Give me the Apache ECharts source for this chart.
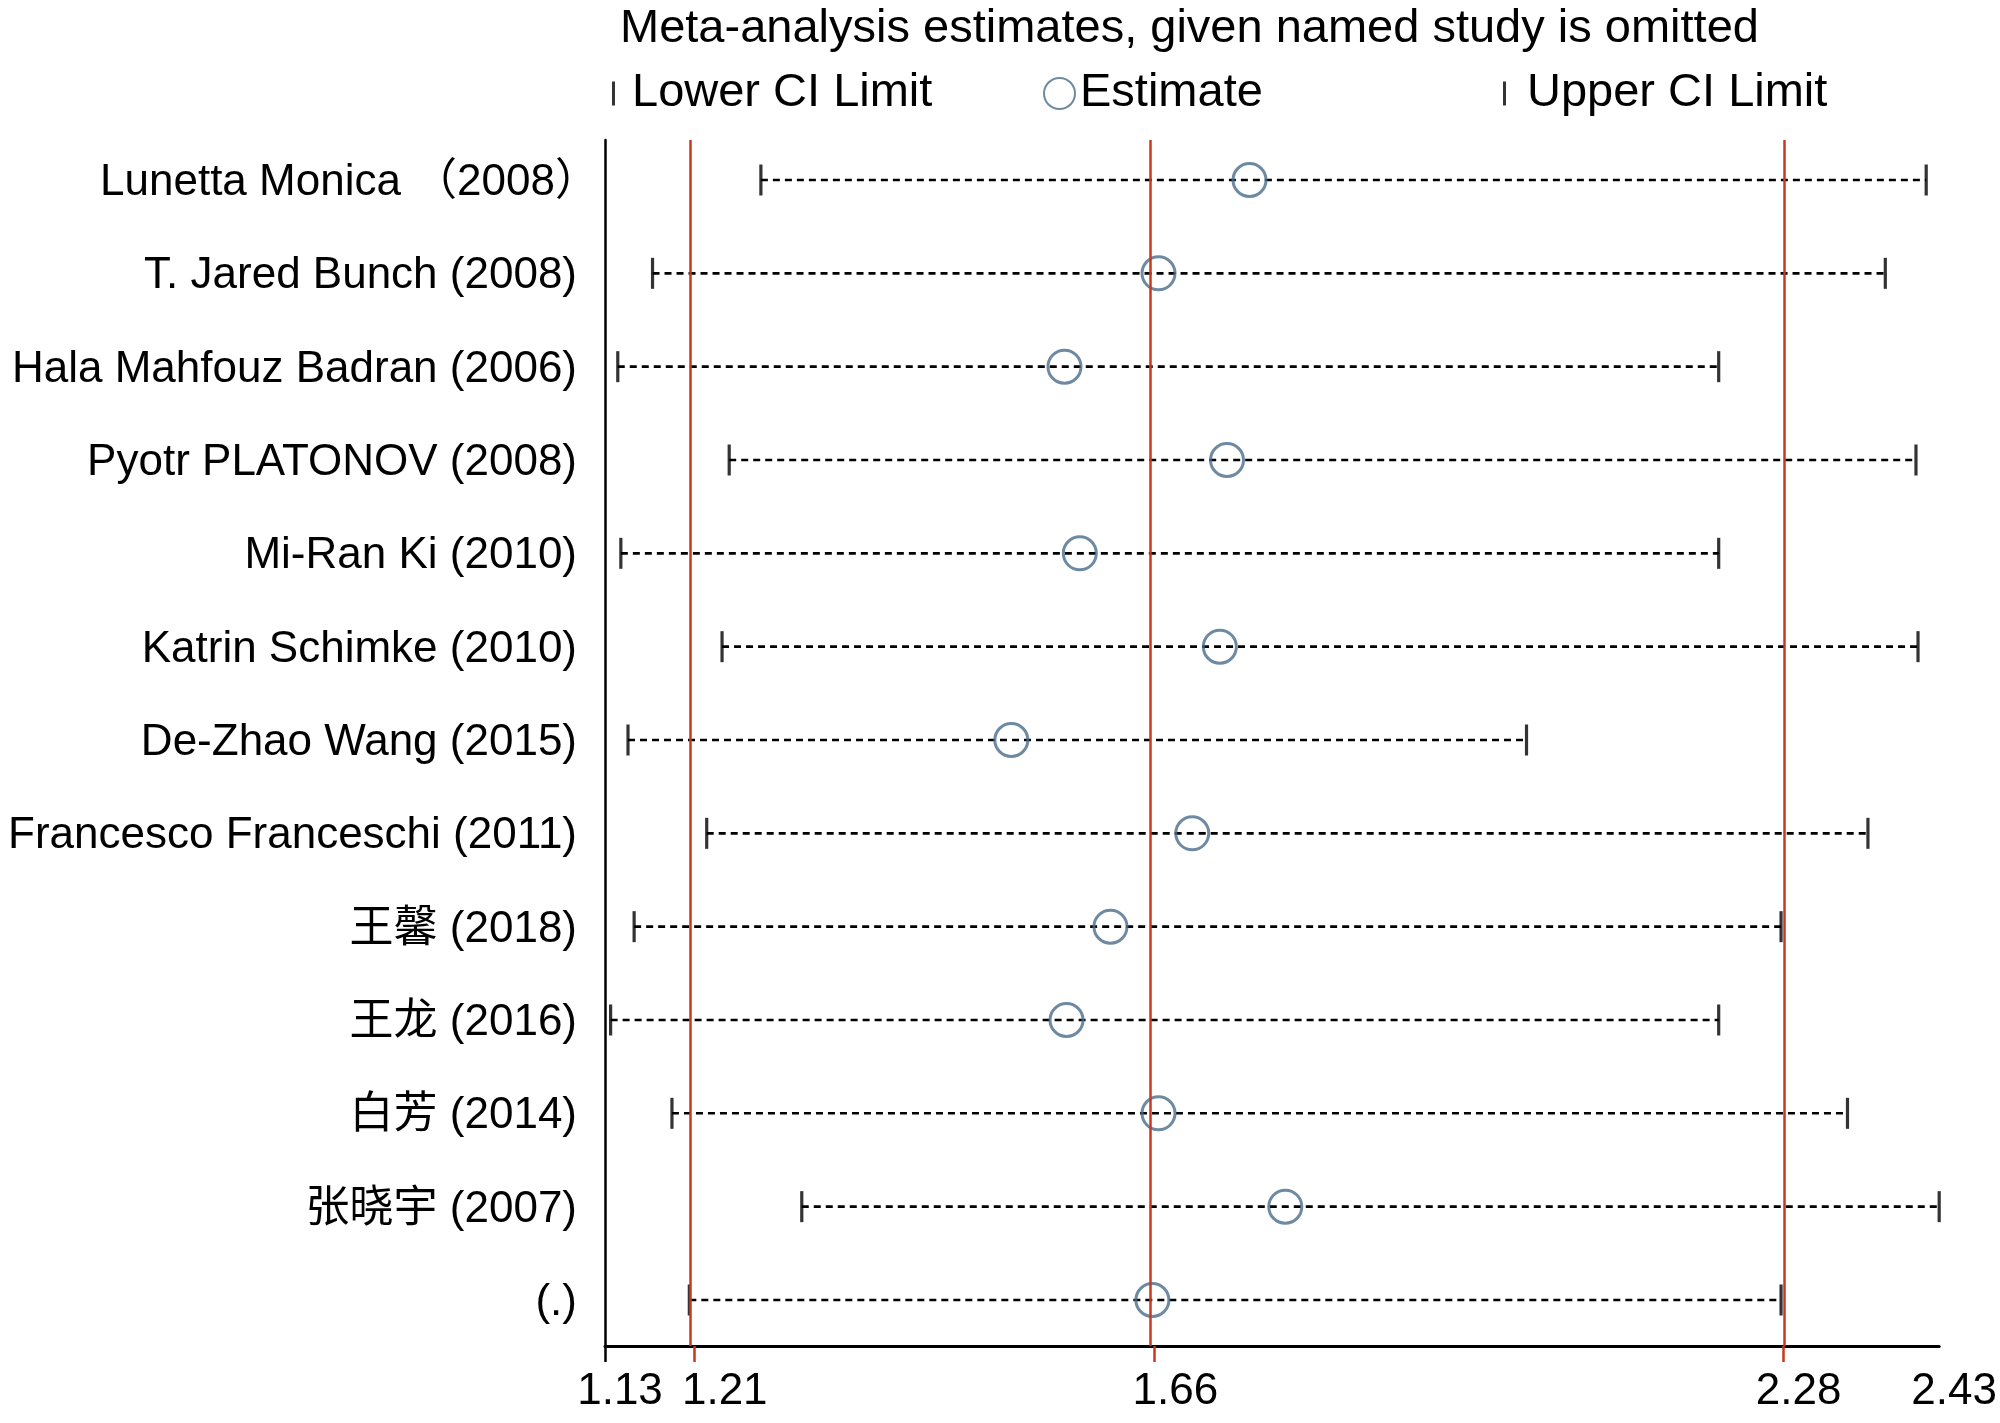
<!DOCTYPE html>
<html>
<head>
<meta charset="utf-8">
<script src="https://cdn.jsdelivr.net/npm/echarts@6/dist/echarts.min.js"></script>
<style>html,body{margin:0;padding:0;background:#fff;}#chart{width:2000px;height:1423px;}</style>
</head>
<body>
<div id="chart"></div>
<script>
const studies = [
  'Lunetta Monica （2008）',
  'T. Jared Bunch (2008)',
  'Hala Mahfouz Badran (2006)',
  'Pyotr PLATONOV (2008)',
  'Mi-Ran Ki (2010)',
  'Katrin Schimke (2010)',
  'De-Zhao Wang (2015)',
  'Francesco Franceschi (2011)',
  '王馨 (2018)',
  '王龙 (2016)',
  '白芳 (2014)',
  '张晓宇 (2007)',
  '(.)'
];
const lowerCI  = [1.279, 1.173, 1.139, 1.248, 1.142, 1.241, 1.149, 1.226, 1.155, 1.132, 1.192, 1.319, 1.209];
const estimate = [1.757, 1.668, 1.576, 1.735, 1.591, 1.728, 1.524, 1.701, 1.621, 1.578, 1.668, 1.792, 1.662];
const upperCI  = [2.419, 2.379, 2.216, 2.409, 2.216, 2.411, 2.028, 2.362, 2.277, 2.216, 2.342, 2.4317, 2.277];
const refValues = [1.2143, 1.664, 2.2795];
const tickValues = [1.1265, 1.2143, 1.664, 2.2795, 2.4317];
const tickLabels = ['1.13', '1.21', '1.66', '2.28', '2.43'];
const xMin = 1.1265, xMax = 2.4317;
const rowIndex = studies.map((s, i) => i);

const FONT = "'Liberation Sans', Arial, 'Noto Sans CJK SC', sans-serif";
const RED = '#c8391f';
const BLUE = '#4a6d8c';

const chart = echarts.init(document.getElementById('chart'), null, {renderer: 'canvas'});
const legendText = {fontSize: 47, color: '#000', fontFamily: FONT, padding: [0, 0, 0, 12]};
const labelShift = [0, 30, 12, 0, 0];
const rich = {};
tickLabels.forEach((t, k) => {
  rich['t' + k] = {fontSize: 44, color: '#000', fontFamily: FONT, padding: [0, 0, 0, labelShift[k]]};
});
const yRich = {
  n: {fontSize: 44, color: '#000', fontFamily: FONT},
  w: {fontSize: 44, color: '#000', fontFamily: FONT, padding: [0, -22, 0, 0]}
};
chart.setOption({
  animation: false,
  backgroundColor: '#fff',
  title: {
    text: 'Meta-analysis estimates, given named study is omitted',
    left: 620, top: 6, padding: 0,
    textStyle: {fontSize: 47, fontWeight: 'normal', color: '#000', fontFamily: FONT}
  },
  legend: [
    {data: ['Lower CI Limit'], left: 612, top: 70, padding: 0, itemWidth: 3, itemHeight: 24, icon: 'rect', textStyle: legendText},
    {data: ['Estimate'], left: 1043, top: 70, padding: 0, itemWidth: 31, itemHeight: 31, icon: 'circle', textStyle: Object.assign({}, legendText, {padding: 0})},
    {data: ['Upper CI Limit'], left: 1503, top: 70, padding: 0, itemWidth: 3, itemHeight: 24, icon: 'rect', textStyle: Object.assign({}, legendText, {padding: [0,0,0,16]})}
  ],
  grid: {left: 605, right: 57, top: 140, bottom: 77, containLabel: false},
  xAxis: [
    {
      type: 'value', min: xMin, max: xMax, position: 'bottom',
      axisLine: {show: true, onZero: false, lineStyle: {color: '#000', width: 3}},
      axisTick: {show: true, customValues: [xMin], length: 16, lineStyle: {color: '#000', width: 2.5}},
      axisLabel: {
        show: true, customValues: tickValues, fontSize: 44, color: '#000', fontFamily: FONT,
        margin: 24, padding: [0, 0, 0, 30], showMinLabel: true, showMaxLabel: true, hideOverlap: false,
        formatter: v => { const k = tickValues.findIndex(t => Math.abs(t - v) < 1e-9); return k >= 0 ? '{t' + k + '|' + tickLabels[k] + '}' : ''; },
        rich: rich
      },
      splitLine: {show: false}
    },
    {
      type: 'value', min: xMin, max: xMax, position: 'bottom',
      axisLine: {show: false, onZero: false},
      axisTick: {show: true, customValues: refValues, length: 16, lineStyle: {color: RED, width: 2.5}},
      axisLabel: {show: false},
      splitLine: {show: false}
    }
  ],
  yAxis: {
    type: 'value', inverse: true, min: -0.4286, max: 12.493,
    axisLine: {show: true, onZero: false, lineStyle: {color: '#000', width: 2.5}},
    axisTick: {show: false},
    axisLabel: {
      customValues: rowIndex, fontSize: 44, color: '#000', fontFamily: FONT, margin: 28,
      padding: [6, 0, 0, 0], showMinLabel: true, showMaxLabel: true, hideOverlap: false,
      formatter: v => {
        const s = studies[Math.round(v)] || '';
        return s.endsWith('）') ? '{w|' + s + '}' : '{n|' + s + '}';
      },
      rich: yRich
    },
    splitLine: {show: false}
  },
  series: [
    {
      type: 'custom', name: 'CI', silent: true, z: 2,
      data: rowIndex.map(i => [lowerCI[i], upperCI[i], i]),
      encode: {x: [0, 1], y: 2},
      renderItem: (params, api) => {
        const p1 = api.coord([api.value(0), api.value(2)]);
        const p2 = api.coord([api.value(1), api.value(2)]);
        return {type: 'line', shape: {x1: p1[0], y1: p1[1], x2: p2[0], y2: p2[1]},
          style: {stroke: '#000', lineWidth: 2.6, lineDash: [7, 5]}};
      }
    },
    {
      type: 'line', name: 'ref', silent: true, z: 1,
      data: [],
      markLine: {
        silent: true, symbol: 'none', label: {show: false},
        lineStyle: {color: RED, width: 2.5, type: 'solid'},
        data: refValues.map(v => ({xAxis: v}))
      }
    },
    {
      type: 'scatter', name: 'Lower CI Limit', z: 3,
      data: rowIndex.map(i => [lowerCI[i], i]),
      symbol: 'rect', symbolSize: [3.2, 31],
      itemStyle: {color: '#000'}
    },
    {
      type: 'scatter', name: 'Estimate', z: 4,
      data: rowIndex.map(i => [estimate[i], i]),
      symbol: 'circle', symbolSize: 33,
      itemStyle: {color: 'rgba(255,255,255,0)', borderColor: BLUE, borderWidth: 3}
    },
    {
      type: 'scatter', name: 'Upper CI Limit', z: 3, clip: false,
      data: rowIndex.map(i => [upperCI[i], i]),
      symbol: 'rect', symbolSize: [3.2, 31],
      itemStyle: {color: '#000'}
    }
  ]
});
</script>
</body>
</html>
